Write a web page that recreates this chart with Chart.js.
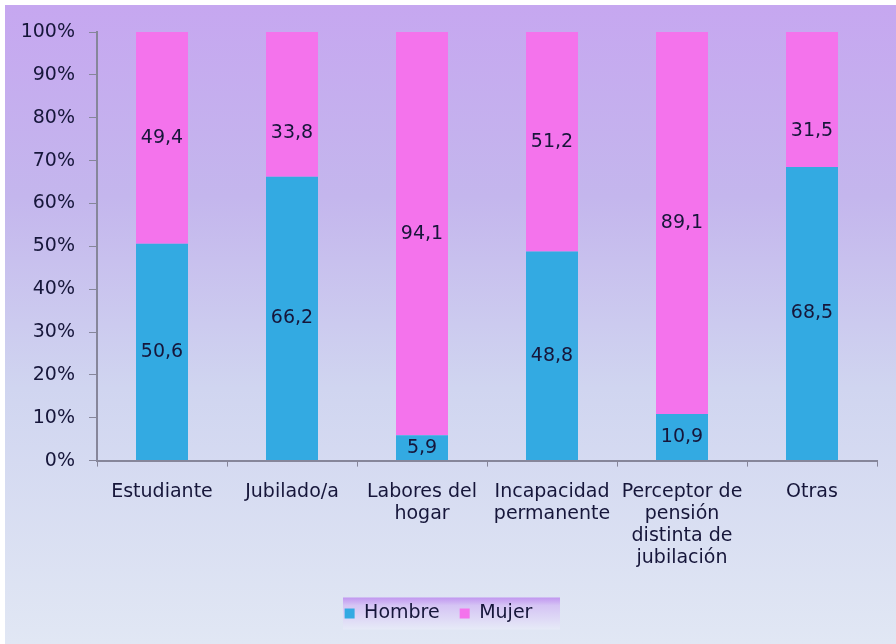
<!DOCTYPE html>
<html>
<head>
<meta charset="utf-8">
<script src="https://cdn.jsdelivr.net/npm/chart.js@4"></script>
<style>
html,body{margin:0;padding:0;background:#fff;}
#wrap{width:896px;height:644px;position:relative;}
</style>
</head>
<body>
<div id="wrap"><canvas id="c" width="896" height="644"></canvas></div>
<script>
const categories = [
  "Estudiante",
  "Jubilado/a",
  ["Labores del", "hogar"],
  ["Incapacidad", "permanente"],
  ["Perceptor de", "pensión", "distinta de", "jubilación"],
  "Otras"
];
const hombre = [50.6, 66.2, 5.9, 48.8, 10.9, 68.5];
const mujer = [49.4, 33.8, 94.1, 51.2, 89.1, 31.5];
const seriesNames = ["Hombre", "Mujer"];
const yTicks = [0, 10, 20, 30, 40, 50, 60, 70, 80, 90, 100];

const FONT = "'DejaVu Sans', Verdana, sans-serif";
const TEXT = "#16163a";

const bgPlugin = {
  id: "bg",
  beforeDraw(chart) {
    const ctx = chart.ctx;
    ctx.save();
    ctx.fillStyle = "#ffffff";
    ctx.fillRect(0, 0, chart.width, chart.height);
    const g = ctx.createLinearGradient(0, 5, 0, chart.height);
    g.addColorStop(0, "#c6a7f0");
    g.addColorStop(0.3, "#c4b6ed");
    g.addColorStop(0.6, "#d0d5f0");
    g.addColorStop(1, "#e1e7f4");
    ctx.fillStyle = g;
    ctx.fillRect(5, 5, chart.width - 5, chart.height - 5);
    const L = chart.legend;
    if (L && L.legendHitBoxes && L.legendHitBoxes.length) {
      const hb = L.legendHitBoxes;
      const cy = hb[0].top + hb[0].height / 2;
      const x = 343, y = cy - 16, w = 217, h = 32;
      const lg = ctx.createLinearGradient(0, y, 0, y + h);
      lg.addColorStop(0, "#c196f0");
      lg.addColorStop(0.25, "#d5c4f4");
      lg.addColorStop(1, "#e6eaf7");
      ctx.fillStyle = lg;
      ctx.fillRect(x, y, w, h);
    }
    ctx.restore();
  }
};

const labelPlugin = {
  id: "vals",
  afterDatasetsDraw(chart, args, opts) {
    const ctx = chart.ctx;
    const ys = chart.scales.y;
    ctx.save();
    ctx.font = "19px " + FONT;
    ctx.fillStyle = TEXT;
    ctx.textAlign = "center";
    ctx.textBaseline = "middle";
    chart.data.datasets.forEach((ds, i) => {
      const meta = chart.getDatasetMeta(i);
      meta.data.forEach((el, j) => {
        const v = ds.data[j];
        let y = (el.y + el.base) / 2;
        const key = i + ":" + j;
        if (opts.anchors && opts.anchors[key] !== undefined) y = ys.getPixelForValue(opts.anchors[key]);
        ctx.fillText(v.toFixed(1).replace(".", ","), el.x, y);
      });
    });
    ctx.restore();
  }
};

new Chart(document.getElementById("c"), {
  type: "bar",
  data: {
    labels: categories,
    datasets: [
      { label: seriesNames[0], data: hombre, backgroundColor: "#33aae2", barPercentage: 0.4, categoryPercentage: 1 },
      { label: seriesNames[1], data: mujer, backgroundColor: "#f473ec", barPercentage: 0.4, categoryPercentage: 1 }
    ]
  },
  options: {
    responsive: false,
    animation: false,
    layout: { padding: { left: 0, right: 19, top: 32, bottom: 11 } },
    plugins: {
      vals: { anchors: { "1:1": 76.5, "1:5": 77 } },
      legend: {
        position: "bottom",
        labels: {
          font: { family: FONT, size: 19 },
          color: TEXT,
          boxWidth: 10,
          boxHeight: 10,
          padding: 20
        }
      },
      tooltip: { enabled: false }
    },
    scales: {
      x: {
        stacked: true,
        grid: { display: true, drawOnChartArea: false, offset: true, tickLength: 6, color: "#86869a", tickColor: "#86869a" },
        border: { color: "#86869a", width: 2 },
        ticks: { font: { family: FONT, size: 19, lineHeight: 1.15 }, color: TEXT, maxRotation: 0, autoSkip: false, padding: 15 }
      },
      y: {
        stacked: true,
        min: 0,
        max: 100,
        afterFit(s) { s.width = 97; },
        afterBuildTicks(s) { s.ticks = yTicks.map(v => ({ value: v })); },
        grid: { display: true, drawOnChartArea: false, tickLength: 8, color: "#86869a", tickColor: "#86869a" },
        border: { color: "#86869a", width: 2 },
        ticks: { font: { family: FONT, size: 19 }, color: TEXT, padding: 14, callback: v => v + "%" }
      }
    }
  },
  plugins: [bgPlugin, labelPlugin]
});
</script>
</body>
</html>
